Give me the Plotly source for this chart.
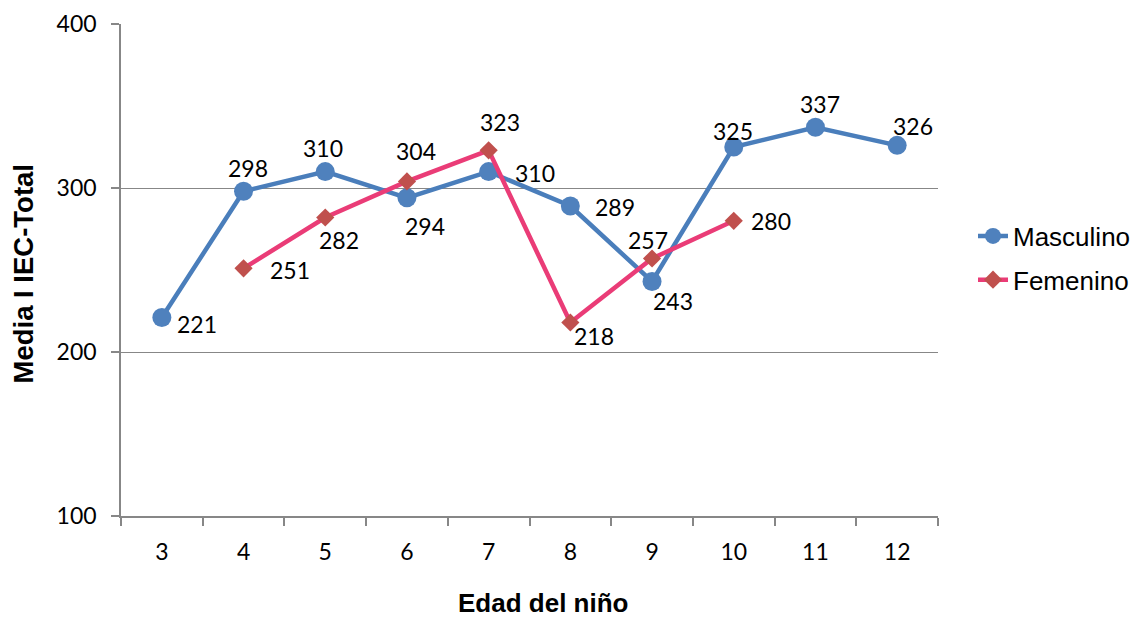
import plotly.graph_objects as go

# Child age categories and mean IEC-Total per sex
edades = ["3", "4", "5", "6", "7", "8", "9", "10", "11", "12"]
masculino = [221, 298, 310, 294, 310, 289, 243, 325, 337, 326]
femenino = [None, 251, 282, 304, 323, 218, 257, 280, None, None]

# Pixel offsets (dx, dy; dy positive = up) of each value label from its marker
off_masc = [(35, -6), (4, 23), (-2, 24), (18, -28), (46, -1),
            (45, -1), (21, -20), (-1, 16), (5, 23), (16, 19)]
off_fem = [None, (46, -2), (14, -22), (9, 30), (11, 28),
           (24, -14), (-4, 19), (37, 0), None, None]

AZUL_LINEA = "#4A7EBB"
AZUL_MARCA = "#4F81BD"
ROSA_LINEA = "#EA3C77"
ROJO_MARCA = "#C0504D"
GRIS = "#878787"
NUM_FONT = dict(family="Lato, Carlito, sans-serif", size=23, color="#000000")
TXT_FONT = "Liberation Sans, Arial, sans-serif"

fig = go.Figure()
fig.add_trace(go.Scatter(
    x=edades, y=masculino, name="Masculino", mode="lines+markers",
    legendgroup="m",
    line=dict(color=AZUL_LINEA, width=4.5),
    marker=dict(symbol="circle", size=19, color=AZUL_MARCA),
))
fig.add_trace(go.Scatter(
    x=edades, y=femenino, name="Femenino", mode="lines+markers",
    legendgroup="f",
    line=dict(color=ROSA_LINEA, width=4.5),
    marker=dict(symbol="diamond", size=14, color=ROJO_MARCA),
    connectgaps=False,
))

# Value labels next to each marker (category axis addressed by index)
for serie, offs in ((masculino, off_masc), (femenino, off_fem)):
    for i, (val, off) in enumerate(zip(serie, offs)):
        if val is None:
            continue
        fig.add_annotation(
            x=i, y=val, xref="x", yref="y", text=str(val),
            showarrow=False, xshift=off[0], yshift=off[1],
            font=NUM_FONT, xanchor="center", yanchor="middle",
        )

# Axis titles
fig.add_annotation(
    x=(543 - 121) / 817, y=(516 - 603) / 492, xref="paper", yref="paper",
    text="<b>Edad del niño</b>", showarrow=False,
    font=dict(family=TXT_FONT, size=26, color="#000000"),
    xanchor="center", yanchor="middle",
)
fig.add_annotation(
    x=(22.5 - 121) / 817, y=(516 - 274) / 492, xref="paper", yref="paper",
    text="<b>Media I IEC-Total</b>", showarrow=False, textangle=-90,
    font=dict(family=TXT_FONT, size=27.5, color="#000000"),
    xanchor="center", yanchor="middle",
)

fig.update_xaxes(
    type="category", range=[-0.5, 9.5], automargin=False,
    showline=True, linecolor=GRIS, linewidth=1.5,
    ticks="outside", tickson="boundaries", ticklen=8, tickcolor=GRIS, tickwidth=1.5,
    tickfont=NUM_FONT, ticklabelstandoff=15,
    showgrid=False, zeroline=False, fixedrange=True,
)
fig.update_yaxes(
    range=[100, 400], tickvals=[100, 200, 300, 400], automargin=False,
    showline=True, linecolor=GRIS, linewidth=1.5,
    ticks="outside", ticklen=8, tickcolor=GRIS, tickwidth=1.5,
    tickfont=NUM_FONT, ticklabelstandoff=10,
    showgrid=True, gridcolor=GRIS, gridwidth=1.2,
    zeroline=False, fixedrange=True,
)

fig.update_layout(
    width=1142, height=620,
    margin=dict(l=121, r=204, t=24, b=104, autoexpand=False),
    paper_bgcolor="#FFFFFF", plot_bgcolor="#FFFFFF",
    showlegend=True,
    legend=dict(
        x=(973 - 121) / 817, y=(516 - 258) / 492, xanchor="left", yanchor="middle",
        xref="paper", yref="paper",
        font=dict(family=TXT_FONT, size=26, color="#000000"),
        bgcolor="rgba(0,0,0,0)", tracegroupgap=7, itemwidth=30,
    ),
)

fig.write_html("out.html")
